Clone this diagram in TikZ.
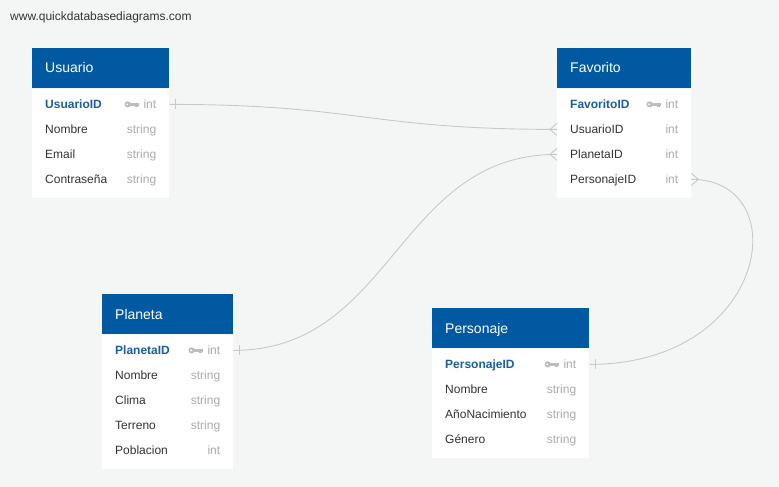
\documentclass[tikz,border=0pt]{standalone}
\usepackage{fontspec}
\setmainfont{Liberation Sans}
\definecolor{bg}{HTML}{F4F6F6}
\definecolor{qdblue}{HTML}{0059A1}
\definecolor{keyblue}{HTML}{1B5E9F}
\definecolor{fieldtext}{HTML}{333333}
\definecolor{typegray}{HTML}{ABABAB}
\definecolor{keygray}{HTML}{BDBDBD}
\definecolor{linegray}{HTML}{C8C8C8}
\tikzstyle{site}=[inner sep=0pt, text=fieldtext, font=\fontsize{12}{14}\selectfont, text height=8.6pt, text depth=0pt]
\tikzstyle{header}=[rectangle, fill=qdblue, minimum height=40pt, inner sep=0pt]
\tikzstyle{title}=[inner sep=0pt, text=white, font=\fontsize{14}{16}\selectfont, text height=9.6pt, text depth=0pt]
\tikzstyle{body}=[rectangle, fill=white, inner sep=0pt]
\tikzstyle{field}=[inner sep=0pt, anchor=west, text=fieldtext, font=\fontsize{12}{14}\selectfont, text height=7.8pt, text depth=0pt]
\tikzstyle{keyfield}=[field, text=keyblue, font=\fontsize{12}{14}\selectfont\bfseries]
\tikzstyle{type}=[inner sep=0pt, anchor=east, text=typegray, font=\fontsize{12}{14}\selectfont, text height=7.8pt, text depth=0pt]
\tikzstyle{rel}=[draw=linegray, line width=0.9pt]
\tikzset{keyicon/.pic={
  \fill[keygray] (-11.2,0) circle (3.1pt);
  \fill[keygray] (-9,-1.2) rectangle (0,1.2);
  \fill[keygray] (-3.4,0) rectangle (-1,3);
  \fill[white] (-11.6,0) circle (1pt);
}}

\begin{document}
\begin{tikzpicture}[x=1pt,y=-1pt]
	% Page and watermark
	\fill[bg] (0,0) rectangle (779,487);
	\useasboundingbox (0,0) rectangle (779,487);
	\node[site, anchor=west] (site) at (10,16) {www.quickdatabasediagrams.com};

	% First we draw the tables
	\foreach \x/\y/\w/\n/\name/\title in {32/48/137/4/usuario/Usuario, 557/48/134/4/favorito/Favorito, 102/294/131/5/planeta/Planeta, 432/308/157/4/personaje/Personaje}
	{
		\node[header, minimum width=\w, anchor=north west] (\name) at (\x,\y) {};
		\node[title, anchor=west] (\name-title) at ([xshift=13pt]\name.west) {\title};
		\node[body, minimum width=\w, minimum height=25*\n+9, anchor=north] (\name-body) at (\name.south) {};
	}

	% Then the rows of every table
	\foreach \tab/\i/\field/\type/\sty in {usuario/1/UsuarioID/int/keyfield, usuario/2/Nombre/string/field, usuario/3/Email/string/field, usuario/4/Contraseña/string/field,
		favorito/1/FavoritoID/int/keyfield, favorito/2/UsuarioID/int/field, favorito/3/PlanetaID/int/field, favorito/4/PersonajeID/int/field,
		planeta/1/PlanetaID/int/keyfield, planeta/2/Nombre/string/field, planeta/3/Clima/string/field, planeta/4/Terreno/string/field, planeta/5/Poblacion/int/field,
		personaje/1/PersonajeID/int/keyfield, personaje/2/Nombre/string/field, personaje/3/AñoNacimiento/string/field, personaje/4/Género/string/field}
	{
		\path (\tab-body.north west) ++(0,{16+25*(\i-1)}) coordinate (\tab\i-w);
		\coordinate (\tab\i-e) at (\tab-body.east |- \tab\i-w);
		\node[\sty] (\tab\i-name) at ([xshift=13pt]\tab\i-w) {\field};
		\node[type] (\tab\i-type) at ([xshift=-13pt]\tab\i-e) {\type};
	}

	% Key marks on the primary keys
	\foreach \tab in {usuario, favorito, planeta, personaje}
	\pic at ([xshift=-4.5pt]\tab1-type.west) {keyicon};

	% Relations
	\path[rel] (usuario1-e) .. controls +(190,0) and +(-190,0) .. (favorito2-w);
	\path[rel] (planeta1-e) .. controls +(160,0) and +(-160,0) .. (favorito3-w);
	\path[rel] (favorito4-e) .. controls +(105,0) and +(180,0) .. (personaje1-e);

	% One side and many side marks
	\foreach \p in {usuario1-e, planeta1-e, personaje1-e}
	\path[rel] ([xshift=6pt,yshift=5pt]\p) -- ([xshift=6pt,yshift=-5pt]\p);
	\foreach \p/\s in {favorito2-w/-7, favorito3-w/-7, favorito4-e/7}
	\path[rel] ([yshift=6pt]\p) -- ([xshift=\s pt]\p) -- ([yshift=-6pt]\p);
\end{tikzpicture}
\end{document}
